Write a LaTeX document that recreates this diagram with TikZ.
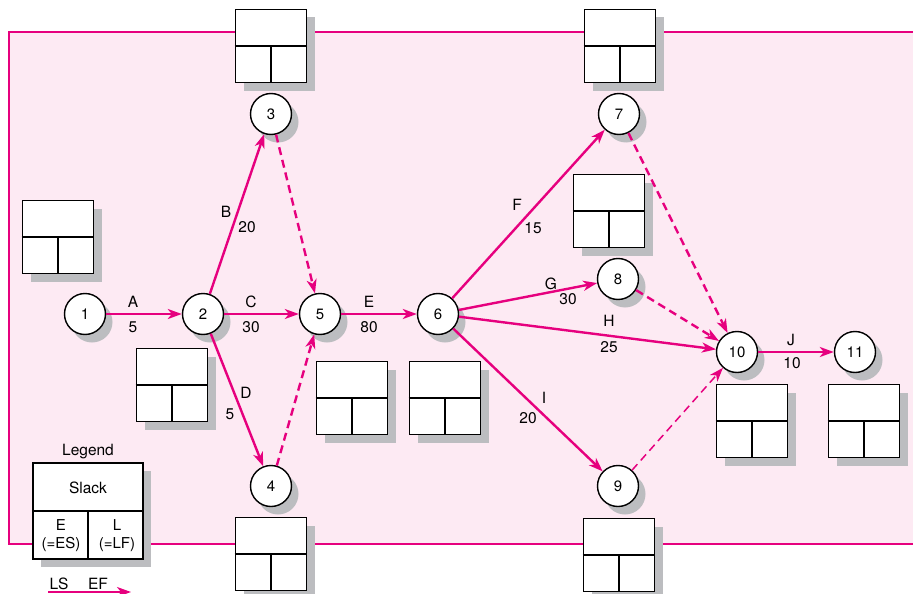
\documentclass[tikz,border=0pt]{standalone}
\usepackage{fontspec}
\setmainfont{TeX Gyre Heros}
\usetikzlibrary{arrows.meta,shadows}
\definecolor{mag}{HTML}{E6007E}
\definecolor{bgpink}{HTML}{FDEAF3}
\definecolor{shgray}{HTML}{BCBDC0}
\tikzset{
 ev/.style={circle,draw=black,line width=1.4pt,fill=white,minimum size=41pt,inner sep=0pt,
   font=\fontsize{15}{17}\selectfont,
   drop shadow={shadow xshift=7pt,shadow yshift=-8pt,fill=shgray,opacity=1}},
 ebox/.style={rectangle,draw=black,line width=1.6pt,fill=white,minimum width=71pt,
   minimum height=73pt,inner sep=0pt,
   drop shadow={shadow xshift=8pt,shadow yshift=-8pt,fill=shgray,opacity=1}},
 act/.style={draw=mag,line width=2.4pt,-{Stealth[length=14pt,width=10pt,inset=4pt]}},
 dum/.style={act,dash pattern=on 8pt off 5pt},
 lbl/.style={font=\fontsize{15.5}{17}\selectfont,inner sep=0pt},
}
\newcommand\ebx[2]{\node[ebox] (#1) at (#2) {};
  \draw[line width=1.6pt] (#1.west) -- (#1.east) (#1.center) -- (#1.south);}
\begin{document}
\begin{tikzpicture}[x=1pt,y=-1pt]
\useasboundingbox (0,0) rectangle (913,594);
\begin{scope}
\clip (0,0) rectangle (913,594);
\draw[mag,line width=1.4pt,fill=bgpink] (9,32) rectangle (940,544);
\end{scope}
% boxes
\ebx{b3}{271,46}
\ebx{b7}{620,46}
\ebx{b1}{58,237}
\ebx{b2}{172,385}
\ebx{b5}{352,398}
\ebx{b6}{445,398}
\ebx{b8}{609,211}
\ebx{b10}{752,421}
\ebx{b11}{864,421}
\ebx{b4}{271,554}
\ebx{b9}{619,555}
% legend
\node[lbl] (leg) at (88,452) {Legend};
\node[ebox,minimum width=110pt,minimum height=96pt] (lb) at (88,511) {};
\draw[line width=1.6pt] (lb.west) -- (lb.east) (lb.center) -- (lb.south);
\node[lbl] (slack) at (88,488) {Slack};
\node[lbl,align=center,font=\fontsize{15}{17.5}\selectfont] (le) at (61,535.5) {E\\(=ES)};
\node[lbl,align=center,font=\fontsize{15}{17.5}\selectfont] (ll) at (117,535.5) {L\\(=LF)};
\node[lbl] (ls) at (59,584) {LS};
\node[lbl] (ef) at (98,584) {EF};
\coordinate (la) at (48,592);
\coordinate (lz) at (131,592);
\draw[act,line width=2pt] (la) -- (lz);
% events
\node[ev] (n1) at (85,314) {1};
\node[ev] (n2) at (203,314) {2};
\node[ev] (n3) at (271,114) {3};
\node[ev] (n4) at (271,486) {4};
\node[ev] (n5) at (320,314) {5};
\node[ev] (n6) at (438,314) {6};
\node[ev] (n7) at (619,114) {7};
\node[ev] (n8) at (618,279) {8};
\node[ev] (n9) at (618,486) {9};
\node[ev] (n10) at (737,352) {10};
\node[ev] (n11) at (855,352) {11};
% activities
\draw[act] (n1) -- (n2);
\draw[act] (n2) -- (n3);
\draw[act,line width=1.7pt] (n2) -- (n5);
\draw[act] (n2) -- (n4);
\draw[dum] (n3) -- (n5);
\draw[dum] (n4) -- (n5);
\draw[act] (n5) -- (n6);
\draw[act] (n6) -- (n7);
\draw[act] (n6) -- (n8);
\draw[act] (n6) -- (n10);
\draw[act] (n6) -- (n9);
\draw[dum] (n7) -- (n10);
\draw[dum] (n8) -- (n10);
\draw[dum,line width=1.5pt] (n9) -- (n10);
\draw[act] (n10) -- (n11);
% labels
\node[lbl] (lA) at (133,302) {A};
\node[lbl] (vA) at (133,327) {5};
\node[lbl] (lC) at (251,302) {C};
\node[lbl] (vC) at (251,327) {30};
\node[lbl] (lE) at (369,302) {E};
\node[lbl] (vE) at (369,327) {80};
\node[lbl] (lB) at (226,212) {B};
\node[lbl] (vB) at (247,227) {20};
\node[lbl] (lD) at (246,393) {D};
\node[lbl] (vD) at (230,414) {5};
\node[lbl] (lF) at (517,205) {F};
\node[lbl] (vF) at (533,228) {15};
\node[lbl] (lG) at (551,284) {G};
\node[lbl] (vG) at (568,299) {30};
\node[lbl] (lH) at (609,321) {H};
\node[lbl] (vH) at (609,347) {25};
\node[lbl] (lI) at (544,398) {I};
\node[lbl] (vI) at (528,418) {20};
\node[lbl] (lJ) at (791,340) {J};
\node[lbl] (vJ) at (792,363) {10};
\end{tikzpicture}
\end{document}
